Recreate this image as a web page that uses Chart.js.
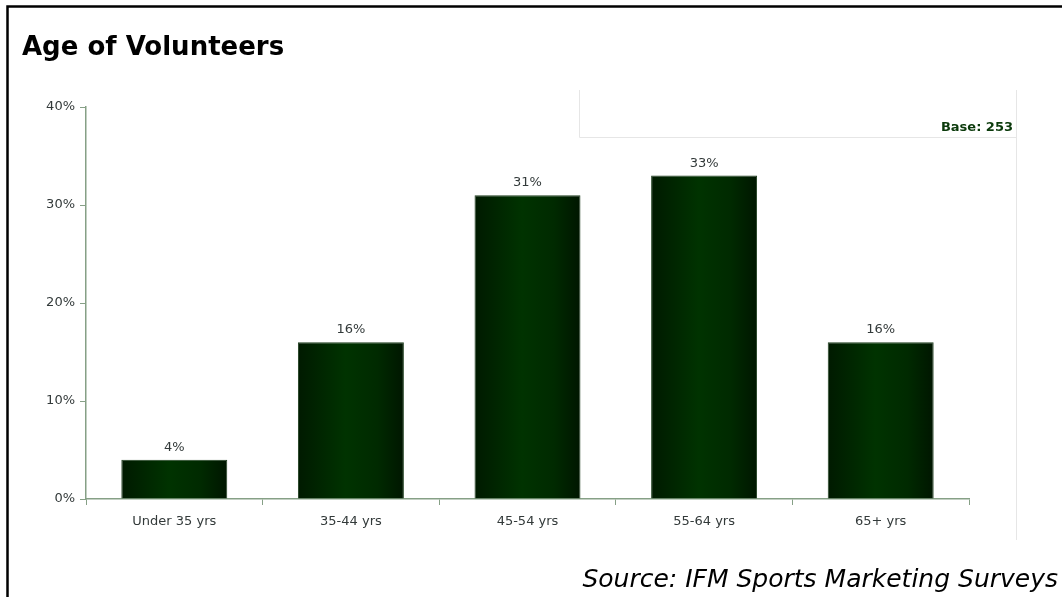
<!DOCTYPE html>
<html>
<head>
<meta charset="utf-8">
<title>Age of Volunteers</title>
<script src="https://cdn.jsdelivr.net/npm/chart.js@4"></script>
<style>
    html, body { margin: 0; padding: 0; background: #ffffff; }
    #wrap { position: relative; width: 1062px; height: 597px; overflow: hidden; }
    #ageChart { position: absolute; left: 0; top: 0; }
</style>
</head>
<body>
<div id="wrap">
    <canvas id="ageChart" width="1062" height="597"></canvas>
</div>
<script>
// === Data ===
const ageGroups = ["Under 35 yrs", "35-44 yrs", "45-54 yrs", "55-64 yrs", "65+ yrs"];
const sharePercent = [4, 16, 31, 33, 16];
const yTicks = [0, 10, 20, 30, 40];

const chartTitle = "Age of Volunteers";
const baseText = "Base: 253";
const sourceText = "Source: IFM Sports Marketing Surveys";

const axisColor = "#86a086";
const labelColor = "#333a3a";
const fontFamily = "'DejaVu Sans', Verdana, sans-serif";
const BAR_PCT = 0.6;

const canvas = document.getElementById("ageChart");

// dark edges, lighter green towards the middle of each bar
function barGradient(ctx) {
    const chart = ctx.chart;
    const xScale = chart.scales && chart.scales.x;
    if (!chart.chartArea || !xScale || ctx.dataIndex === undefined) return "#003300";
    const cx = xScale.getPixelForValue(ctx.dataIndex);
    const half = (xScale.width / ageGroups.length) * BAR_PCT / 2;
    if (!isFinite(cx) || !(half > 0)) return "#003300";
    const g = chart.ctx.createLinearGradient(cx - half, 0, cx + half, 0);
    g.addColorStop(0, "#001a00");
    g.addColorStop(0.45, "#003300");
    g.addColorStop(0.75, "#002a00");
    g.addColorStop(1, "#001600");
    return g;
}

// page frame, title, base box and source line
const frameText = {
    id: "frameText",
    beforeDraw(chart) {
        const c = chart.ctx;
        c.save();
        c.strokeStyle = "#e6e6e6";
        c.lineWidth = 1;
        c.beginPath();
        c.moveTo(579.5, 90);
        c.lineTo(579.5, 137.5);
        c.lineTo(1016.5, 137.5);
        c.moveTo(1016.5, 90);
        c.lineTo(1016.5, 540);
        c.stroke();
        c.restore();
    },
    afterDraw(chart) {
        const c = chart.ctx;
        c.save();
        c.strokeStyle = "#000000";
        c.lineWidth = 2.5;
        c.beginPath();
        c.moveTo(7.5, 700);
        c.lineTo(7.5, 6.5);
        c.lineTo(1100, 6.5);
        c.stroke();

        c.fillStyle = "#000000";
        c.textBaseline = "alphabetic";
        c.textAlign = "left";
        c.font = "bold 26px " + fontFamily;
        c.fillText(chartTitle, 22, 55);

        c.fillStyle = "#0b3a0b";
        c.textAlign = "right";
        c.font = "bold 13px " + fontFamily;
        c.fillText(baseText, 1013, 131);

        c.fillStyle = "#000000";
        c.font = "italic 25px " + fontFamily;
        c.fillText(sourceText, 1058, 587);
        c.restore();
    }
};

// percentage above each bar
const barValues = {
    id: "barValues",
    afterDatasetsDraw(chart) {
        const c = chart.ctx;
        const meta = chart.getDatasetMeta(0);
        c.save();
        c.fillStyle = labelColor;
        c.font = "13px " + fontFamily;
        c.textAlign = "center";
        c.textBaseline = "alphabetic";
        meta.data.forEach((bar, i) => {
            c.fillText(sharePercent[i] + "%", bar.x, bar.y - 9);
        });
        c.restore();
    }
};

new Chart(canvas, {
    type: "bar",
    data: {
        labels: ageGroups,
        datasets: [{
            data: sharePercent,
            backgroundColor: barGradient,
            borderColor: "#1f3f1f",
            borderWidth: 1,
            borderSkipped: "bottom",
            barPercentage: BAR_PCT,
            categoryPercentage: 1
        }]
    },
    options: {
        responsive: false,
        animation: false,
        layout: { padding: { left: 0, right: 93, top: 107, bottom: 0 } },
        plugins: {
            legend: { display: false },
            title: { display: false },
            tooltip: { enabled: false }
        },
        scales: {
            x: {
                offset: true,
                afterFit(scale) { scale.height = 98; },
                grid: {
                    offset: true,
                    drawOnChartArea: false,
                    drawTicks: true,
                    tickLength: 6,
                    color: axisColor
                },
                border: { display: true, color: axisColor, width: 1.5 },
                ticks: {
                    color: labelColor,
                    padding: 9,
                    font: { family: fontFamily, size: 13 }
                }
            },
            y: {
                min: 0,
                max: 40,
                afterFit(scale) { scale.width = 86; },
                afterBuildTicks(scale) {
                    scale.ticks = yTicks.map(v => ({ value: v }));
                },
                grid: {
                    drawOnChartArea: false,
                    drawTicks: true,
                    tickLength: 6,
                    color: axisColor
                },
                border: { display: true, color: axisColor, width: 1.5 },
                ticks: {
                    color: labelColor,
                    padding: 5,
                    font: { family: fontFamily, size: 13 },
                    callback: v => v + "%"
                }
            }
        }
    },
    plugins: [frameText, barValues]
});
</script>
</body>
</html>
